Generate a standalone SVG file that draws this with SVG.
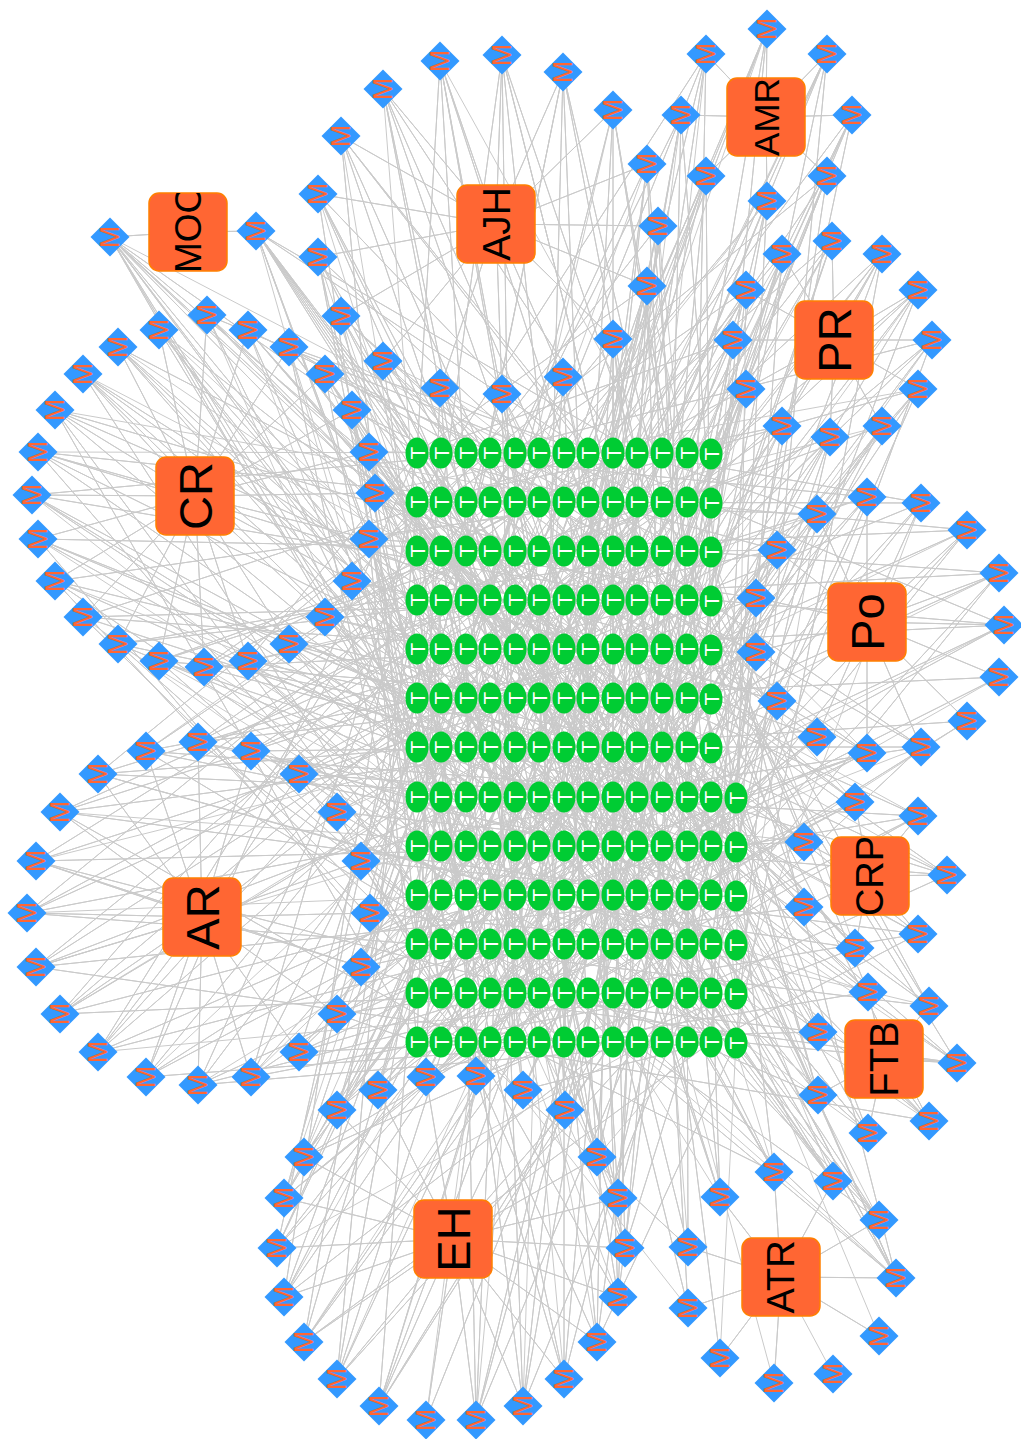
<svg xmlns="http://www.w3.org/2000/svg" xmlns:xlink="http://www.w3.org/1999/xlink" width="1021" height="1439" viewBox="0 0 1021 1439">
<style>
.e path{fill:none;stroke:#cacaca;stroke-width:1;stroke-linejoin:round}
.m{fill:#FF6633;font-family:"Liberation Sans",Arial,sans-serif;font-size:27px;text-anchor:middle;dominant-baseline:central}
.b{fill:#ffffff;font-family:"Liberation Sans",Arial,sans-serif;font-size:21px;text-anchor:middle;dominant-baseline:central}
.h{fill:#FF6633;stroke:#FF8000;stroke-width:1.5}
.l{fill:#000000;font-family:"Liberation Sans",Arial,sans-serif;text-anchor:middle;dominant-baseline:central}
</style>
<defs>
<path id="d" fill="#3399FF" d="M0 -19.5L19.5 0L0 19.5L-19.5 0Z"/>
<ellipse id="e" fill="#00CC33" rx="15.5" ry="11.5"/>
<clipPath id="cm"><rect x="-39" y="-39" width="78" height="78"/></clipPath>
</defs>
<rect width="1021" height="1439" fill="#ffffff"/>
<g id="connectors" class="e">
<path d="M440 61L496 224 440 61 417 453 440 61 539 600 440 61 662 747 440 61 490 895 440 61 613 1042 440 61 711 551M502 55L496 224 502 55 441 502 502 55 564 649 502 55 687 797 502 55 515 944 502 55 637 453 502 55 736 993M563 72L496 224 563 72 466 551 563 72 588 698 563 72 711 846 563 72 539 993 563 72 662 502 563 72 417 797M383 89L496 224 383 89 490 600 383 89 613 747 383 89 736 895 383 89 564 1042 383 89 687 551 383 89 441 846M341 136L496 224 341 136 515 649 341 136 637 797 341 136 417 944 341 136 588 453 341 136 711 600 341 136 466 895M318 194L496 224 318 194 539 698 318 194 662 846 318 194 441 993 318 194 613 502 318 194 736 1042 318 194 490 747M318 257L496 224 318 257 564 747 318 257 687 895 318 257 466 1042 318 257 637 551 318 257 417 698 318 257 515 846M341 316L496 224 341 316 588 797 341 316 711 944 341 316 490 453 341 316 662 600 341 316 441 747 341 316 539 895M383 361L496 224 383 361 613 846 383 361 736 797 383 361 515 502 383 361 687 649 383 361 466 944 383 361 564 453M440 388L496 224 440 388 637 895 440 388 417 1042 440 388 539 551 440 388 711 698 440 388 490 993 440 388 588 502M502 394L496 224 502 394 662 944 502 394 441 600 502 394 564 797 502 394 736 846 502 394 515 1042 502 394 613 649M563 377L496 224 563 377 687 993 563 377 466 649 563 377 588 846 563 377 417 502 563 377 539 747 563 377 637 698M613 339L496 224 613 339 711 1042 613 339 490 698 613 339 613 895 613 339 441 551 613 339 564 993 613 339 662 797M647 286L496 224 647 286 417 453 647 286 539 600 647 286 662 747 647 286 490 895 647 286 613 1042 647 286 711 551M658 226L496 224 658 226 441 502 658 226 564 649 658 226 687 797 658 226 515 944 658 226 637 453 658 226 736 993M647 164L496 224 647 164 466 551 647 164 588 698 647 164 711 846 647 164 539 993 647 164 662 502 647 164 417 797M613 110L496 224 613 110 490 600 613 110 613 747 613 110 736 895 613 110 564 1042 613 110 687 551 613 110 441 846"/>
<path d="M767 29L766 117 767 29 515 649 767 29 637 797 767 29 417 944 767 29 588 453 767 29 711 600 767 29 466 895M827 54L766 117 827 54 539 698 827 54 662 846 827 54 441 993 827 54 613 502 827 54 736 1042 827 54 490 747M852 115L766 117 852 115 564 747 852 115 687 895 852 115 466 1042 852 115 637 551 852 115 417 698 852 115 515 846M827 176L766 117 827 176 588 797 827 176 711 944 827 176 490 453 827 176 662 600 827 176 441 747 827 176 539 895M767 201L766 117 767 201 613 846 767 201 736 797 767 201 515 502 767 201 687 649 767 201 466 944 767 201 564 453M706 176L766 117 706 176 637 895 706 176 417 1042 706 176 539 551 706 176 711 698 706 176 490 993 706 176 588 502M681 115L766 117 681 115 662 944 681 115 441 600 681 115 564 797 681 115 736 846 681 115 515 1042 681 115 613 649M706 54L766 117 706 54 687 993 706 54 466 649 706 54 588 846 706 54 417 502 706 54 539 747 706 54 637 698"/>
<path d="M110 237L188 232 110 237 711 1042 110 237 490 698 110 237 613 895 110 237 441 551 110 237 564 993 110 237 662 797 110 237 417 453 110 237 539 600 110 237 662 747 110 237 490 895 110 237 613 1042 110 237 711 551M256 231L188 232 256 231 441 502 256 231 564 649 256 231 687 797 256 231 515 944 256 231 637 453 256 231 736 993 256 231 466 551 256 231 588 698 256 231 711 846 256 231 539 993 256 231 662 502 256 231 417 797"/>
<path d="M782 254L834 340 782 254 490 600 782 254 613 747 782 254 736 895 782 254 564 1042 782 254 687 551 782 254 441 846M832 241L834 340 832 241 515 649 832 241 637 797 832 241 417 944 832 241 588 453 832 241 711 600 832 241 466 895M882 254L834 340 882 254 539 698 882 254 662 846 882 254 441 993 882 254 613 502 882 254 736 1042 882 254 490 747M918 290L834 340 918 290 564 747 918 290 687 895 918 290 466 1042 918 290 637 551 918 290 417 698 918 290 515 846M932 340L834 340 932 340 588 797 932 340 711 944 932 340 490 453 932 340 662 600 932 340 441 747 932 340 539 895M918 389L834 340 918 389 613 846 918 389 736 797 918 389 515 502 918 389 687 649 918 389 466 944 918 389 564 453M882 426L834 340 882 426 637 895 882 426 417 1042 882 426 539 551 882 426 711 698 882 426 490 993 882 426 588 502M830 437L834 340 830 437 662 944 830 437 441 600 830 437 564 797 830 437 736 846 830 437 515 1042 830 437 613 649M782 426L834 340 782 426 687 993 782 426 466 649 782 426 588 846 782 426 417 502 782 426 539 747 782 426 637 698M746 389L834 340 746 389 711 1042 746 389 490 698 746 389 613 895 746 389 441 551 746 389 564 993 746 389 662 797M733 340L834 340 733 340 417 453 733 340 539 600 733 340 662 747 733 340 490 895 733 340 613 1042 733 340 711 551M746 290L834 340 746 290 441 502 746 290 564 649 746 290 687 797 746 290 515 944 746 290 637 453 746 290 736 993"/>
<path d="M207 315L195 496 207 315 466 551 207 315 588 698 207 315 711 846 207 315 539 993 207 315 662 502 207 315 417 797M248 330L195 496 248 330 490 600 248 330 613 747 248 330 736 895 248 330 564 1042 248 330 687 551 248 330 441 846M289 347L195 496 289 347 515 649 289 347 637 797 289 347 417 944 289 347 588 453 289 347 711 600 289 347 466 895M325 374L195 496 325 374 539 698 325 374 662 846 325 374 441 993 325 374 613 502 325 374 736 1042 325 374 490 747M352 410L195 496 352 410 564 747 352 410 687 895 352 410 466 1042 352 410 637 551 352 410 417 698 352 410 515 846M369 452L195 496 369 452 588 797 369 452 711 944 369 452 490 453 369 452 662 600 369 452 441 747 369 452 539 895M375 493L195 496 375 493 613 846 375 493 736 797 375 493 515 502 375 493 687 649 375 493 466 944 375 493 564 453M369 539L195 496 369 539 637 895 369 539 417 1042 369 539 539 551 369 539 711 698 369 539 490 993 369 539 588 502M352 581L195 496 352 581 662 944 352 581 441 600 352 581 564 797 352 581 736 846 352 581 515 1042 352 581 613 649M325 617L195 496 325 617 687 993 325 617 466 649 325 617 588 846 325 617 417 502 325 617 539 747 325 617 637 698M289 644L195 496 289 644 711 1042 289 644 490 698 289 644 613 895 289 644 441 551 289 644 564 993 289 644 662 797M248 661L195 496 248 661 417 453 248 661 539 600 248 661 662 747 248 661 490 895 248 661 613 1042 248 661 711 551M204 667L195 496 204 667 441 502 204 667 564 649 204 667 687 797 204 667 515 944 204 667 637 453 204 667 736 993M159 661L195 496 159 661 466 551 159 661 588 698 159 661 711 846 159 661 539 993 159 661 662 502 159 661 417 797M118 644L195 496 118 644 490 600 118 644 613 747 118 644 736 895 118 644 564 1042 118 644 687 551 118 644 441 846M83 617L195 496 83 617 515 649 83 617 637 797 83 617 417 944 83 617 588 453 83 617 711 600 83 617 466 895M55 581L195 496 55 581 539 698 55 581 662 846 55 581 441 993 55 581 613 502 55 581 736 1042 55 581 490 747M38 539L195 496 38 539 564 747 38 539 687 895 38 539 466 1042 38 539 637 551 38 539 417 698 38 539 515 846M32 495L195 496 32 495 588 797 32 495 711 944 32 495 490 453 32 495 662 600 32 495 441 747 32 495 539 895M38 452L195 496 38 452 613 846 38 452 736 797 38 452 515 502 38 452 687 649 38 452 466 944 38 452 564 453M55 410L195 496 55 410 637 895 55 410 417 1042 55 410 539 551 55 410 711 698 55 410 490 993 55 410 588 502M83 374L195 496 83 374 662 944 83 374 441 600 83 374 564 797 83 374 736 846 83 374 515 1042 83 374 613 649M118 347L195 496 118 347 687 993 118 347 466 649 118 347 588 846 118 347 417 502 118 347 539 747 118 347 637 698M159 330L195 496 159 330 711 1042 159 330 490 698 159 330 613 895 159 330 441 551 159 330 564 993 159 330 662 797"/>
<path d="M867 497L867 622 867 497 417 453 867 497 539 600 867 497 662 747 867 497 490 895 867 497 613 1042 867 497 711 551M921 503L867 622 921 503 441 502 921 503 564 649 921 503 687 797 921 503 515 944 921 503 637 453 921 503 736 993M967 530L867 622 967 530 466 551 967 530 588 698 967 530 711 846 967 530 539 993 967 530 662 502 967 530 417 797M999 573L867 622 999 573 490 600 999 573 613 747 999 573 736 895 999 573 564 1042 999 573 687 551 999 573 441 846M1004 625L867 622 1004 625 515 649 1004 625 637 797 1004 625 417 944 1004 625 588 453 1004 625 711 600 1004 625 466 895M999 677L867 622 999 677 539 698 999 677 662 846 999 677 441 993M967 721L867 622 967 721 564 747 967 721 687 895 967 721 466 1042M921 747L867 622 921 747 588 797 921 747 711 944 921 747 490 453 921 747 662 600 921 747 441 747 921 747 539 895M867 753L867 622 867 753 613 846 867 753 736 797 867 753 515 502 867 753 687 649 867 753 466 944 867 753 564 453M817 737L867 622 817 737 637 895 817 737 417 1042 817 737 539 551 817 737 711 698 817 737 490 993 817 737 588 502M777 701L867 622 777 701 662 944 777 701 441 600 777 701 564 797 777 701 736 846 777 701 515 1042 777 701 613 649M756 652L867 622 756 652 687 993 756 652 466 649 756 652 588 846 756 652 417 502 756 652 539 747 756 652 637 698M756 598L867 622 756 598 711 1042 756 598 490 698 756 598 613 895 756 598 441 551 756 598 564 993 756 598 662 797M777 550L867 622 777 550 417 453 777 550 539 600 777 550 662 747 777 550 490 895 777 550 613 1042 777 550 711 551M817 514L867 622 817 514 441 502 817 514 564 649 817 514 687 797 817 514 515 944 817 514 637 453 817 514 736 993"/>
<path d="M198 742L202 917 198 742 466 551 198 742 588 698 198 742 711 846 198 742 539 993 198 742 662 502 198 742 417 797M251 751L202 917 251 751 490 600 251 751 613 747 251 751 736 895 251 751 564 1042 251 751 687 551 251 751 441 846M299 774L202 917 299 774 515 649 299 774 637 797 299 774 417 944 299 774 588 453 299 774 711 600 299 774 466 895M337 812L202 917 337 812 539 698 337 812 662 846 337 812 441 993 337 812 613 502 337 812 736 1042 337 812 490 747M361 861L202 917 361 861 564 747 361 861 687 895 361 861 466 1042 361 861 637 551 361 861 417 698 361 861 515 846M370 913L202 917 370 913 588 797 370 913 711 944 370 913 490 453 370 913 662 600 370 913 441 747 370 913 539 895M361 967L202 917 361 967 613 846 361 967 736 797 361 967 515 502 361 967 687 649 361 967 466 944 361 967 564 453M337 1014L202 917 337 1014 637 895 337 1014 417 1042 337 1014 539 551 337 1014 711 698 337 1014 490 993 337 1014 588 502M299 1052L202 917 299 1052 662 944 299 1052 441 600 299 1052 564 797 299 1052 736 846 299 1052 515 1042 299 1052 613 649M251 1077L202 917 251 1077 687 993 251 1077 466 649 251 1077 588 846 251 1077 417 502 251 1077 539 747 251 1077 637 698M198 1085L202 917 198 1085 711 1042 198 1085 490 698 198 1085 613 895 198 1085 441 551 198 1085 564 993 198 1085 662 797M146 1077L202 917 146 1077 417 453 146 1077 539 600 146 1077 662 747 146 1077 490 895 146 1077 613 1042 146 1077 711 551M98 1052L202 917 98 1052 441 502 98 1052 564 649 98 1052 687 797 98 1052 515 944 98 1052 637 453 98 1052 736 993M60 1014L202 917 60 1014 466 551 60 1014 588 698 60 1014 711 846 60 1014 539 993 60 1014 662 502 60 1014 417 797M36 967L202 917 36 967 490 600 36 967 613 747 36 967 736 895 36 967 564 1042 36 967 687 551 36 967 441 846M27 913L202 917 27 913 515 649 27 913 637 797 27 913 417 944 27 913 588 453 27 913 711 600 27 913 466 895M36 861L202 917 36 861 539 698 36 861 662 846 36 861 441 993 36 861 613 502 36 861 736 1042 36 861 490 747M60 812L202 917 60 812 564 747 60 812 687 895 60 812 466 1042 60 812 637 551 60 812 417 698 60 812 515 846M98 774L202 917 98 774 588 797 98 774 711 944 98 774 490 453 98 774 662 600 98 774 441 747 98 774 539 895M146 751L202 917 146 751 613 846 146 751 736 797 146 751 515 502 146 751 687 649 146 751 466 944 146 751 564 453"/>
<path d="M855 802L869 876 855 802 637 895 855 802 417 1042 855 802 539 551 855 802 711 698 855 802 490 993 855 802 588 502M918 816L869 876 918 816 662 944 918 816 441 600 918 816 564 797 918 816 736 846 918 816 515 1042 918 816 613 649M947 875L869 876 947 875 687 993 947 875 466 649 947 875 588 846 947 875 417 502 947 875 539 747 947 875 637 698M918 934L869 876 918 934 711 1042 918 934 490 698 918 934 613 895 918 934 441 551 918 934 564 993 918 934 662 797M855 948L869 876 855 948 417 453 855 948 539 600 855 948 662 747 855 948 490 895 855 948 613 1042 855 948 711 551M804 907L869 876 804 907 441 502 804 907 564 649 804 907 687 797 804 907 515 944 804 907 637 453 804 907 736 993M804 842L869 876 804 842 466 551 804 842 588 698 804 842 711 846 804 842 539 993 804 842 662 502 804 842 417 797"/>
<path d="M868 992L884 1059 868 992 490 600 868 992 613 747 868 992 736 895 868 992 564 1042 868 992 687 551 868 992 441 846M929 1006L884 1059 929 1006 515 649 929 1006 637 797 929 1006 417 944 929 1006 588 453 929 1006 711 600 929 1006 466 895M957 1063L884 1059 957 1063 539 698 957 1063 662 846 957 1063 441 993 957 1063 613 502 957 1063 736 1042 957 1063 490 747M929 1121L884 1059 929 1121 564 747 929 1121 687 895 929 1121 466 1042 929 1121 637 551 929 1121 417 698 929 1121 515 846M868 1133L884 1059 868 1133 588 797 868 1133 711 944 868 1133 490 453 868 1133 662 600 868 1133 441 747 868 1133 539 895M818 1095L884 1059 818 1095 613 846 818 1095 736 797 818 1095 515 502 818 1095 687 649 818 1095 466 944 818 1095 564 453M818 1032L884 1059 818 1032 637 895 818 1032 417 1042 818 1032 539 551 818 1032 711 698 818 1032 490 993 818 1032 588 502"/>
<path d="M774 1172L781 1277 774 1172 662 944 774 1172 441 600 774 1172 564 797 774 1172 736 846 774 1172 515 1042 774 1172 613 649M833 1181L781 1277 833 1181 687 993 833 1181 466 649 833 1181 588 846 833 1181 417 502 833 1181 539 747 833 1181 637 698M879 1220L781 1277 879 1220 711 1042 879 1220 490 698 879 1220 613 895 879 1220 441 551 879 1220 564 993 879 1220 662 797M896 1278L781 1277 896 1278 417 453 896 1278 539 600 896 1278 662 747 896 1278 490 895 896 1278 613 1042 896 1278 711 551 896 1278 564 649 896 1278 687 797 896 1278 515 944M879 1336L781 1277 879 1336 736 993M833 1374L781 1277M774 1383L781 1277 774 1383 588 698M720 1358L781 1277 720 1358 613 502 720 1358 736 1042M688 1308L781 1277 688 1308 539 698 688 1308 662 846 688 1308 441 993M688 1247L781 1277 688 1247 564 747 688 1247 687 895 688 1247 466 1042 688 1247 637 551M720 1197L781 1277 720 1197 588 797 720 1197 711 944 720 1197 490 453 720 1197 662 600 720 1197 441 747"/>
<path d="M337 1110L453 1239 337 1110 613 846 337 1110 736 797 337 1110 515 502 337 1110 687 649 337 1110 466 944 337 1110 564 453M378 1090L453 1239 378 1090 637 895 378 1090 417 1042 378 1090 539 551 378 1090 711 698 378 1090 490 993 378 1090 588 502M426 1077L453 1239 426 1077 662 944 426 1077 441 600 426 1077 564 797 426 1077 736 846 426 1077 515 1042 426 1077 613 649M476 1076L453 1239 476 1076 687 993 476 1076 466 649 476 1076 588 846 476 1076 417 502 476 1076 539 747 476 1076 637 698M523 1090L453 1239 523 1090 711 1042 523 1090 490 698 523 1090 613 895 523 1090 441 551 523 1090 564 993 523 1090 662 797M565 1110L453 1239 565 1110 417 453 565 1110 539 600 565 1110 662 747 565 1110 490 895 565 1110 613 1042 565 1110 711 551M597 1157L453 1239 597 1157 441 502 597 1157 564 649 597 1157 687 797 597 1157 515 944 597 1157 637 453 597 1157 736 993M618 1198L453 1239 618 1198 466 551 618 1198 588 698 618 1198 711 846 618 1198 539 993 618 1198 662 502 618 1198 417 797M625 1248L453 1239 625 1248 490 600 625 1248 613 747 625 1248 736 895 625 1248 564 1042 625 1248 687 551 625 1248 441 846M618 1297L453 1239 618 1297 515 649 618 1297 637 797 618 1297 417 944 618 1297 588 453 618 1297 711 600 618 1297 466 895M597 1342L453 1239 597 1342 539 698 597 1342 662 846 597 1342 441 993 597 1342 613 502 597 1342 736 1042 597 1342 490 747M564 1379L453 1239 564 1379 564 747 564 1379 687 895 564 1379 466 1042 564 1379 637 551 564 1379 417 698 564 1379 515 846M523 1406L453 1239 523 1406 588 797 523 1406 711 944 523 1406 490 453 523 1406 662 600 523 1406 441 747 523 1406 539 895M476 1420L453 1239 476 1420 613 846 476 1420 736 797 476 1420 515 502 476 1420 687 649 476 1420 466 944 476 1420 564 453M426 1420L453 1239 426 1420 637 895 426 1420 539 551M379 1406L453 1239 379 1406 662 944 379 1406 441 600 379 1406 564 797 379 1406 736 846 379 1406 515 1042 379 1406 613 649M337 1379L453 1239 337 1379 687 993 337 1379 466 649 337 1379 588 846 337 1379 417 502 337 1379 539 747 337 1379 637 698M304 1342L453 1239 304 1342 711 1042 304 1342 490 698 304 1342 613 895 304 1342 441 551 304 1342 564 993 304 1342 662 797M284 1297L453 1239 284 1297 417 453 284 1297 539 600 284 1297 662 747 284 1297 490 895 284 1297 613 1042 284 1297 711 551M277 1248L453 1239 277 1248 441 502 277 1248 564 649 277 1248 687 797 277 1248 515 944 277 1248 637 453 277 1248 736 993M284 1198L453 1239 284 1198 466 551 284 1198 588 698 284 1198 711 846 284 1198 539 993 284 1198 662 502 284 1198 417 797M304 1157L453 1239 304 1157 490 600 304 1157 613 747 304 1157 736 895 304 1157 564 1042 304 1157 687 551 304 1157 441 846"/>
</g>
<g id="t-nodes">
<g id="t1" transform="translate(417 453)rotate(-90)"><use href="#e"/><text class="b">T</text></g>
<g id="t2" transform="translate(441 453)rotate(-90)"><use href="#e"/><text class="b">T</text></g>
<g id="t3" transform="translate(466 453)rotate(-90)"><use href="#e"/><text class="b">T</text></g>
<g id="t4" transform="translate(490 453)rotate(-90)"><use href="#e"/><text class="b">T</text></g>
<g id="t5" transform="translate(515 453)rotate(-90)"><use href="#e"/><text class="b">T</text></g>
<g id="t6" transform="translate(539 453)rotate(-90)"><use href="#e"/><text class="b">T</text></g>
<g id="t7" transform="translate(564 453)rotate(-90)"><use href="#e"/><text class="b">T</text></g>
<g id="t8" transform="translate(588 453)rotate(-90)"><use href="#e"/><text class="b">T</text></g>
<g id="t9" transform="translate(613 453)rotate(-90)"><use href="#e"/><text class="b">T</text></g>
<g id="t10" transform="translate(637 453)rotate(-90)"><use href="#e"/><text class="b">T</text></g>
<g id="t11" transform="translate(662 453)rotate(-90)"><use href="#e"/><text class="b">T</text></g>
<g id="t12" transform="translate(687 453)rotate(-90)"><use href="#e"/><text class="b">T</text></g>
<g id="t13" transform="translate(711 454)rotate(-90)"><use href="#e"/><text class="b">T</text></g>
<g id="t14" transform="translate(417 502)rotate(-90)"><use href="#e"/><text class="b">T</text></g>
<g id="t15" transform="translate(441 502)rotate(-90)"><use href="#e"/><text class="b">T</text></g>
<g id="t16" transform="translate(466 502)rotate(-90)"><use href="#e"/><text class="b">T</text></g>
<g id="t17" transform="translate(490 502)rotate(-90)"><use href="#e"/><text class="b">T</text></g>
<g id="t18" transform="translate(515 502)rotate(-90)"><use href="#e"/><text class="b">T</text></g>
<g id="t19" transform="translate(539 502)rotate(-90)"><use href="#e"/><text class="b">T</text></g>
<g id="t20" transform="translate(564 502)rotate(-90)"><use href="#e"/><text class="b">T</text></g>
<g id="t21" transform="translate(588 502)rotate(-90)"><use href="#e"/><text class="b">T</text></g>
<g id="t22" transform="translate(613 502)rotate(-90)"><use href="#e"/><text class="b">T</text></g>
<g id="t23" transform="translate(637 502)rotate(-90)"><use href="#e"/><text class="b">T</text></g>
<g id="t24" transform="translate(662 502)rotate(-90)"><use href="#e"/><text class="b">T</text></g>
<g id="t25" transform="translate(687 502)rotate(-90)"><use href="#e"/><text class="b">T</text></g>
<g id="t26" transform="translate(711 503)rotate(-90)"><use href="#e"/><text class="b">T</text></g>
<g id="t27" transform="translate(417 551)rotate(-90)"><use href="#e"/><text class="b">T</text></g>
<g id="t28" transform="translate(441 551)rotate(-90)"><use href="#e"/><text class="b">T</text></g>
<g id="t29" transform="translate(466 551)rotate(-90)"><use href="#e"/><text class="b">T</text></g>
<g id="t30" transform="translate(490 551)rotate(-90)"><use href="#e"/><text class="b">T</text></g>
<g id="t31" transform="translate(515 551)rotate(-90)"><use href="#e"/><text class="b">T</text></g>
<g id="t32" transform="translate(539 551)rotate(-90)"><use href="#e"/><text class="b">T</text></g>
<g id="t33" transform="translate(564 551)rotate(-90)"><use href="#e"/><text class="b">T</text></g>
<g id="t34" transform="translate(588 551)rotate(-90)"><use href="#e"/><text class="b">T</text></g>
<g id="t35" transform="translate(613 551)rotate(-90)"><use href="#e"/><text class="b">T</text></g>
<g id="t36" transform="translate(637 551)rotate(-90)"><use href="#e"/><text class="b">T</text></g>
<g id="t37" transform="translate(662 551)rotate(-90)"><use href="#e"/><text class="b">T</text></g>
<g id="t38" transform="translate(687 551)rotate(-90)"><use href="#e"/><text class="b">T</text></g>
<g id="t39" transform="translate(711 552)rotate(-90)"><use href="#e"/><text class="b">T</text></g>
<g id="t40" transform="translate(417 600)rotate(-90)"><use href="#e"/><text class="b">T</text></g>
<g id="t41" transform="translate(441 600)rotate(-90)"><use href="#e"/><text class="b">T</text></g>
<g id="t42" transform="translate(466 600)rotate(-90)"><use href="#e"/><text class="b">T</text></g>
<g id="t43" transform="translate(490 600)rotate(-90)"><use href="#e"/><text class="b">T</text></g>
<g id="t44" transform="translate(515 600)rotate(-90)"><use href="#e"/><text class="b">T</text></g>
<g id="t45" transform="translate(539 600)rotate(-90)"><use href="#e"/><text class="b">T</text></g>
<g id="t46" transform="translate(564 600)rotate(-90)"><use href="#e"/><text class="b">T</text></g>
<g id="t47" transform="translate(588 600)rotate(-90)"><use href="#e"/><text class="b">T</text></g>
<g id="t48" transform="translate(613 600)rotate(-90)"><use href="#e"/><text class="b">T</text></g>
<g id="t49" transform="translate(637 600)rotate(-90)"><use href="#e"/><text class="b">T</text></g>
<g id="t50" transform="translate(662 600)rotate(-90)"><use href="#e"/><text class="b">T</text></g>
<g id="t51" transform="translate(687 600)rotate(-90)"><use href="#e"/><text class="b">T</text></g>
<g id="t52" transform="translate(711 601)rotate(-90)"><use href="#e"/><text class="b">T</text></g>
<g id="t53" transform="translate(417 649)rotate(-90)"><use href="#e"/><text class="b">T</text></g>
<g id="t54" transform="translate(441 649)rotate(-90)"><use href="#e"/><text class="b">T</text></g>
<g id="t55" transform="translate(466 649)rotate(-90)"><use href="#e"/><text class="b">T</text></g>
<g id="t56" transform="translate(490 649)rotate(-90)"><use href="#e"/><text class="b">T</text></g>
<g id="t57" transform="translate(515 649)rotate(-90)"><use href="#e"/><text class="b">T</text></g>
<g id="t58" transform="translate(539 649)rotate(-90)"><use href="#e"/><text class="b">T</text></g>
<g id="t59" transform="translate(564 649)rotate(-90)"><use href="#e"/><text class="b">T</text></g>
<g id="t60" transform="translate(588 649)rotate(-90)"><use href="#e"/><text class="b">T</text></g>
<g id="t61" transform="translate(613 649)rotate(-90)"><use href="#e"/><text class="b">T</text></g>
<g id="t62" transform="translate(637 649)rotate(-90)"><use href="#e"/><text class="b">T</text></g>
<g id="t63" transform="translate(662 649)rotate(-90)"><use href="#e"/><text class="b">T</text></g>
<g id="t64" transform="translate(687 649)rotate(-90)"><use href="#e"/><text class="b">T</text></g>
<g id="t65" transform="translate(711 650)rotate(-90)"><use href="#e"/><text class="b">T</text></g>
<g id="t66" transform="translate(417 698)rotate(-90)"><use href="#e"/><text class="b">T</text></g>
<g id="t67" transform="translate(441 698)rotate(-90)"><use href="#e"/><text class="b">T</text></g>
<g id="t68" transform="translate(466 698)rotate(-90)"><use href="#e"/><text class="b">T</text></g>
<g id="t69" transform="translate(490 698)rotate(-90)"><use href="#e"/><text class="b">T</text></g>
<g id="t70" transform="translate(515 698)rotate(-90)"><use href="#e"/><text class="b">T</text></g>
<g id="t71" transform="translate(539 698)rotate(-90)"><use href="#e"/><text class="b">T</text></g>
<g id="t72" transform="translate(564 698)rotate(-90)"><use href="#e"/><text class="b">T</text></g>
<g id="t73" transform="translate(588 698)rotate(-90)"><use href="#e"/><text class="b">T</text></g>
<g id="t74" transform="translate(613 698)rotate(-90)"><use href="#e"/><text class="b">T</text></g>
<g id="t75" transform="translate(637 698)rotate(-90)"><use href="#e"/><text class="b">T</text></g>
<g id="t76" transform="translate(662 698)rotate(-90)"><use href="#e"/><text class="b">T</text></g>
<g id="t77" transform="translate(687 698)rotate(-90)"><use href="#e"/><text class="b">T</text></g>
<g id="t78" transform="translate(711 699)rotate(-90)"><use href="#e"/><text class="b">T</text></g>
<g id="t79" transform="translate(417 747)rotate(-90)"><use href="#e"/><text class="b">T</text></g>
<g id="t80" transform="translate(441 747)rotate(-90)"><use href="#e"/><text class="b">T</text></g>
<g id="t81" transform="translate(466 747)rotate(-90)"><use href="#e"/><text class="b">T</text></g>
<g id="t82" transform="translate(490 747)rotate(-90)"><use href="#e"/><text class="b">T</text></g>
<g id="t83" transform="translate(515 747)rotate(-90)"><use href="#e"/><text class="b">T</text></g>
<g id="t84" transform="translate(539 747)rotate(-90)"><use href="#e"/><text class="b">T</text></g>
<g id="t85" transform="translate(564 747)rotate(-90)"><use href="#e"/><text class="b">T</text></g>
<g id="t86" transform="translate(588 747)rotate(-90)"><use href="#e"/><text class="b">T</text></g>
<g id="t87" transform="translate(613 747)rotate(-90)"><use href="#e"/><text class="b">T</text></g>
<g id="t88" transform="translate(637 747)rotate(-90)"><use href="#e"/><text class="b">T</text></g>
<g id="t89" transform="translate(662 747)rotate(-90)"><use href="#e"/><text class="b">T</text></g>
<g id="t90" transform="translate(687 747)rotate(-90)"><use href="#e"/><text class="b">T</text></g>
<g id="t91" transform="translate(711 748)rotate(-90)"><use href="#e"/><text class="b">T</text></g>
<g id="t92" transform="translate(417 797)rotate(-90)"><use href="#e"/><text class="b">T</text></g>
<g id="t93" transform="translate(441 797)rotate(-90)"><use href="#e"/><text class="b">T</text></g>
<g id="t94" transform="translate(466 797)rotate(-90)"><use href="#e"/><text class="b">T</text></g>
<g id="t95" transform="translate(490 797)rotate(-90)"><use href="#e"/><text class="b">T</text></g>
<g id="t96" transform="translate(515 797)rotate(-90)"><use href="#e"/><text class="b">T</text></g>
<g id="t97" transform="translate(539 797)rotate(-90)"><use href="#e"/><text class="b">T</text></g>
<g id="t98" transform="translate(564 797)rotate(-90)"><use href="#e"/><text class="b">T</text></g>
<g id="t99" transform="translate(588 797)rotate(-90)"><use href="#e"/><text class="b">T</text></g>
<g id="t100" transform="translate(613 797)rotate(-90)"><use href="#e"/><text class="b">T</text></g>
<g id="t101" transform="translate(637 797)rotate(-90)"><use href="#e"/><text class="b">T</text></g>
<g id="t102" transform="translate(662 797)rotate(-90)"><use href="#e"/><text class="b">T</text></g>
<g id="t103" transform="translate(687 797)rotate(-90)"><use href="#e"/><text class="b">T</text></g>
<g id="t104" transform="translate(711 797)rotate(-90)"><use href="#e"/><text class="b">T</text></g>
<g id="t105" transform="translate(736 798)rotate(-90)"><use href="#e"/><text class="b">T</text></g>
<g id="t106" transform="translate(417 846)rotate(-90)"><use href="#e"/><text class="b">T</text></g>
<g id="t107" transform="translate(441 846)rotate(-90)"><use href="#e"/><text class="b">T</text></g>
<g id="t108" transform="translate(466 846)rotate(-90)"><use href="#e"/><text class="b">T</text></g>
<g id="t109" transform="translate(490 846)rotate(-90)"><use href="#e"/><text class="b">T</text></g>
<g id="t110" transform="translate(515 846)rotate(-90)"><use href="#e"/><text class="b">T</text></g>
<g id="t111" transform="translate(539 846)rotate(-90)"><use href="#e"/><text class="b">T</text></g>
<g id="t112" transform="translate(564 846)rotate(-90)"><use href="#e"/><text class="b">T</text></g>
<g id="t113" transform="translate(588 846)rotate(-90)"><use href="#e"/><text class="b">T</text></g>
<g id="t114" transform="translate(613 846)rotate(-90)"><use href="#e"/><text class="b">T</text></g>
<g id="t115" transform="translate(637 846)rotate(-90)"><use href="#e"/><text class="b">T</text></g>
<g id="t116" transform="translate(662 846)rotate(-90)"><use href="#e"/><text class="b">T</text></g>
<g id="t117" transform="translate(687 846)rotate(-90)"><use href="#e"/><text class="b">T</text></g>
<g id="t118" transform="translate(711 846)rotate(-90)"><use href="#e"/><text class="b">T</text></g>
<g id="t119" transform="translate(736 847)rotate(-90)"><use href="#e"/><text class="b">T</text></g>
<g id="t120" transform="translate(417 895)rotate(-90)"><use href="#e"/><text class="b">T</text></g>
<g id="t121" transform="translate(441 895)rotate(-90)"><use href="#e"/><text class="b">T</text></g>
<g id="t122" transform="translate(466 895)rotate(-90)"><use href="#e"/><text class="b">T</text></g>
<g id="t123" transform="translate(490 895)rotate(-90)"><use href="#e"/><text class="b">T</text></g>
<g id="t124" transform="translate(515 895)rotate(-90)"><use href="#e"/><text class="b">T</text></g>
<g id="t125" transform="translate(539 895)rotate(-90)"><use href="#e"/><text class="b">T</text></g>
<g id="t126" transform="translate(564 895)rotate(-90)"><use href="#e"/><text class="b">T</text></g>
<g id="t127" transform="translate(588 895)rotate(-90)"><use href="#e"/><text class="b">T</text></g>
<g id="t128" transform="translate(613 895)rotate(-90)"><use href="#e"/><text class="b">T</text></g>
<g id="t129" transform="translate(637 895)rotate(-90)"><use href="#e"/><text class="b">T</text></g>
<g id="t130" transform="translate(662 895)rotate(-90)"><use href="#e"/><text class="b">T</text></g>
<g id="t131" transform="translate(687 895)rotate(-90)"><use href="#e"/><text class="b">T</text></g>
<g id="t132" transform="translate(711 895)rotate(-90)"><use href="#e"/><text class="b">T</text></g>
<g id="t133" transform="translate(736 896)rotate(-90)"><use href="#e"/><text class="b">T</text></g>
<g id="t134" transform="translate(417 944)rotate(-90)"><use href="#e"/><text class="b">T</text></g>
<g id="t135" transform="translate(441 944)rotate(-90)"><use href="#e"/><text class="b">T</text></g>
<g id="t136" transform="translate(466 944)rotate(-90)"><use href="#e"/><text class="b">T</text></g>
<g id="t137" transform="translate(490 944)rotate(-90)"><use href="#e"/><text class="b">T</text></g>
<g id="t138" transform="translate(515 944)rotate(-90)"><use href="#e"/><text class="b">T</text></g>
<g id="t139" transform="translate(539 944)rotate(-90)"><use href="#e"/><text class="b">T</text></g>
<g id="t140" transform="translate(564 944)rotate(-90)"><use href="#e"/><text class="b">T</text></g>
<g id="t141" transform="translate(588 944)rotate(-90)"><use href="#e"/><text class="b">T</text></g>
<g id="t142" transform="translate(613 944)rotate(-90)"><use href="#e"/><text class="b">T</text></g>
<g id="t143" transform="translate(637 944)rotate(-90)"><use href="#e"/><text class="b">T</text></g>
<g id="t144" transform="translate(662 944)rotate(-90)"><use href="#e"/><text class="b">T</text></g>
<g id="t145" transform="translate(687 944)rotate(-90)"><use href="#e"/><text class="b">T</text></g>
<g id="t146" transform="translate(711 944)rotate(-90)"><use href="#e"/><text class="b">T</text></g>
<g id="t147" transform="translate(736 945)rotate(-90)"><use href="#e"/><text class="b">T</text></g>
<g id="t148" transform="translate(417 993)rotate(-90)"><use href="#e"/><text class="b">T</text></g>
<g id="t149" transform="translate(441 993)rotate(-90)"><use href="#e"/><text class="b">T</text></g>
<g id="t150" transform="translate(466 993)rotate(-90)"><use href="#e"/><text class="b">T</text></g>
<g id="t151" transform="translate(490 993)rotate(-90)"><use href="#e"/><text class="b">T</text></g>
<g id="t152" transform="translate(515 993)rotate(-90)"><use href="#e"/><text class="b">T</text></g>
<g id="t153" transform="translate(539 993)rotate(-90)"><use href="#e"/><text class="b">T</text></g>
<g id="t154" transform="translate(564 993)rotate(-90)"><use href="#e"/><text class="b">T</text></g>
<g id="t155" transform="translate(588 993)rotate(-90)"><use href="#e"/><text class="b">T</text></g>
<g id="t156" transform="translate(613 993)rotate(-90)"><use href="#e"/><text class="b">T</text></g>
<g id="t157" transform="translate(637 993)rotate(-90)"><use href="#e"/><text class="b">T</text></g>
<g id="t158" transform="translate(662 993)rotate(-90)"><use href="#e"/><text class="b">T</text></g>
<g id="t159" transform="translate(687 993)rotate(-90)"><use href="#e"/><text class="b">T</text></g>
<g id="t160" transform="translate(711 993)rotate(-90)"><use href="#e"/><text class="b">T</text></g>
<g id="t161" transform="translate(736 994)rotate(-90)"><use href="#e"/><text class="b">T</text></g>
<g id="t162" transform="translate(417 1042)rotate(-90)"><use href="#e"/><text class="b">T</text></g>
<g id="t163" transform="translate(441 1042)rotate(-90)"><use href="#e"/><text class="b">T</text></g>
<g id="t164" transform="translate(466 1042)rotate(-90)"><use href="#e"/><text class="b">T</text></g>
<g id="t165" transform="translate(490 1042)rotate(-90)"><use href="#e"/><text class="b">T</text></g>
<g id="t166" transform="translate(515 1042)rotate(-90)"><use href="#e"/><text class="b">T</text></g>
<g id="t167" transform="translate(539 1042)rotate(-90)"><use href="#e"/><text class="b">T</text></g>
<g id="t168" transform="translate(564 1042)rotate(-90)"><use href="#e"/><text class="b">T</text></g>
<g id="t169" transform="translate(588 1042)rotate(-90)"><use href="#e"/><text class="b">T</text></g>
<g id="t170" transform="translate(613 1042)rotate(-90)"><use href="#e"/><text class="b">T</text></g>
<g id="t171" transform="translate(637 1042)rotate(-90)"><use href="#e"/><text class="b">T</text></g>
<g id="t172" transform="translate(662 1042)rotate(-90)"><use href="#e"/><text class="b">T</text></g>
<g id="t173" transform="translate(687 1042)rotate(-90)"><use href="#e"/><text class="b">T</text></g>
<g id="t174" transform="translate(711 1042)rotate(-90)"><use href="#e"/><text class="b">T</text></g>
<g id="t175" transform="translate(736 1043)rotate(-90)"><use href="#e"/><text class="b">T</text></g>
</g>
<g id="m-nodes">
<g id="a1" transform="translate(440 61)rotate(-90)"><use href="#d"/><text class="m">M</text></g>
<g id="a2" transform="translate(502 55)rotate(-90)"><use href="#d"/><text class="m">M</text></g>
<g id="a3" transform="translate(563 72)rotate(-90)"><use href="#d"/><text class="m">M</text></g>
<g id="a4" transform="translate(383 89)rotate(-90)"><use href="#d"/><text class="m">M</text></g>
<g id="a5" transform="translate(341 136)rotate(-90)"><use href="#d"/><text class="m">M</text></g>
<g id="a6" transform="translate(318 194)rotate(-90)"><use href="#d"/><text class="m">M</text></g>
<g id="a7" transform="translate(318 257)rotate(-90)"><use href="#d"/><text class="m">M</text></g>
<g id="a8" transform="translate(341 316)rotate(-90)"><use href="#d"/><text class="m">M</text></g>
<g id="a9" transform="translate(383 361)rotate(-90)"><use href="#d"/><text class="m">M</text></g>
<g id="a10" transform="translate(440 388)rotate(-90)"><use href="#d"/><text class="m">M</text></g>
<g id="a11" transform="translate(502 394)rotate(-90)"><use href="#d"/><text class="m">M</text></g>
<g id="a12" transform="translate(563 377)rotate(-90)"><use href="#d"/><text class="m">M</text></g>
<g id="a13" transform="translate(613 339)rotate(-90)"><use href="#d"/><text class="m">M</text></g>
<g id="a14" transform="translate(647 286)rotate(-90)"><use href="#d"/><text class="m">M</text></g>
<g id="a15" transform="translate(658 226)rotate(-90)"><use href="#d"/><text class="m">M</text></g>
<g id="a16" transform="translate(647 164)rotate(-90)"><use href="#d"/><text class="m">M</text></g>
<g id="a17" transform="translate(613 110)rotate(-90)"><use href="#d"/><text class="m">M</text></g>
<g id="b1" transform="translate(767 29)rotate(-90)"><use href="#d"/><text class="m">M</text></g>
<g id="b2" transform="translate(827 54)rotate(-90)"><use href="#d"/><text class="m">M</text></g>
<g id="b3" transform="translate(852 115)rotate(-90)"><use href="#d"/><text class="m">M</text></g>
<g id="b4" transform="translate(827 176)rotate(-90)"><use href="#d"/><text class="m">M</text></g>
<g id="b5" transform="translate(767 201)rotate(-90)"><use href="#d"/><text class="m">M</text></g>
<g id="b6" transform="translate(706 176)rotate(-90)"><use href="#d"/><text class="m">M</text></g>
<g id="b7" transform="translate(681 115)rotate(-90)"><use href="#d"/><text class="m">M</text></g>
<g id="b8" transform="translate(706 54)rotate(-90)"><use href="#d"/><text class="m">M</text></g>
<g id="c1" transform="translate(110 237)rotate(-90)"><use href="#d"/><text class="m">M</text></g>
<g id="c2" transform="translate(256 231)rotate(-90)"><use href="#d"/><text class="m">M</text></g>
<g id="d1" transform="translate(782 254)rotate(-90)"><use href="#d"/><text class="m">M</text></g>
<g id="d2" transform="translate(832 241)rotate(-90)"><use href="#d"/><text class="m">M</text></g>
<g id="d3" transform="translate(882 254)rotate(-90)"><use href="#d"/><text class="m">M</text></g>
<g id="d4" transform="translate(918 290)rotate(-90)"><use href="#d"/><text class="m">M</text></g>
<g id="d5" transform="translate(932 340)rotate(-90)"><use href="#d"/><text class="m">M</text></g>
<g id="d6" transform="translate(918 389)rotate(-90)"><use href="#d"/><text class="m">M</text></g>
<g id="d7" transform="translate(882 426)rotate(-90)"><use href="#d"/><text class="m">M</text></g>
<g id="d8" transform="translate(830 437)rotate(-90)"><use href="#d"/><text class="m">M</text></g>
<g id="d9" transform="translate(782 426)rotate(-90)"><use href="#d"/><text class="m">M</text></g>
<g id="d10" transform="translate(746 389)rotate(-90)"><use href="#d"/><text class="m">M</text></g>
<g id="d11" transform="translate(733 340)rotate(-90)"><use href="#d"/><text class="m">M</text></g>
<g id="d12" transform="translate(746 290)rotate(-90)"><use href="#d"/><text class="m">M</text></g>
<g id="e1" transform="translate(207 315)rotate(-90)"><use href="#d"/><text class="m">M</text></g>
<g id="e2" transform="translate(248 330)rotate(-90)"><use href="#d"/><text class="m">M</text></g>
<g id="e3" transform="translate(289 347)rotate(-90)"><use href="#d"/><text class="m">M</text></g>
<g id="e4" transform="translate(325 374)rotate(-90)"><use href="#d"/><text class="m">M</text></g>
<g id="e5" transform="translate(352 410)rotate(-90)"><use href="#d"/><text class="m">M</text></g>
<g id="e6" transform="translate(369 452)rotate(-90)"><use href="#d"/><text class="m">M</text></g>
<g id="e7" transform="translate(375 493)rotate(-90)"><use href="#d"/><text class="m">M</text></g>
<g id="e8" transform="translate(369 539)rotate(-90)"><use href="#d"/><text class="m">M</text></g>
<g id="e9" transform="translate(352 581)rotate(-90)"><use href="#d"/><text class="m">M</text></g>
<g id="e10" transform="translate(325 617)rotate(-90)"><use href="#d"/><text class="m">M</text></g>
<g id="e11" transform="translate(289 644)rotate(-90)"><use href="#d"/><text class="m">M</text></g>
<g id="e12" transform="translate(248 661)rotate(-90)"><use href="#d"/><text class="m">M</text></g>
<g id="e13" transform="translate(204 667)rotate(-90)"><use href="#d"/><text class="m">M</text></g>
<g id="e14" transform="translate(159 661)rotate(-90)"><use href="#d"/><text class="m">M</text></g>
<g id="e15" transform="translate(118 644)rotate(-90)"><use href="#d"/><text class="m">M</text></g>
<g id="e16" transform="translate(83 617)rotate(-90)"><use href="#d"/><text class="m">M</text></g>
<g id="e17" transform="translate(55 581)rotate(-90)"><use href="#d"/><text class="m">M</text></g>
<g id="e18" transform="translate(38 539)rotate(-90)"><use href="#d"/><text class="m">M</text></g>
<g id="e19" transform="translate(32 495)rotate(-90)"><use href="#d"/><text class="m">M</text></g>
<g id="e20" transform="translate(38 452)rotate(-90)"><use href="#d"/><text class="m">M</text></g>
<g id="e21" transform="translate(55 410)rotate(-90)"><use href="#d"/><text class="m">M</text></g>
<g id="e22" transform="translate(83 374)rotate(-90)"><use href="#d"/><text class="m">M</text></g>
<g id="e23" transform="translate(118 347)rotate(-90)"><use href="#d"/><text class="m">M</text></g>
<g id="e24" transform="translate(159 330)rotate(-90)"><use href="#d"/><text class="m">M</text></g>
<g id="f1" transform="translate(867 497)rotate(-90)"><use href="#d"/><text class="m">M</text></g>
<g id="f2" transform="translate(921 503)rotate(-90)"><use href="#d"/><text class="m">M</text></g>
<g id="f3" transform="translate(967 530)rotate(-90)"><use href="#d"/><text class="m">M</text></g>
<g id="f4" transform="translate(999 573)rotate(-90)"><use href="#d"/><text class="m">M</text></g>
<g id="f5" transform="translate(1004 625)rotate(-90)"><use href="#d"/><text class="m">M</text></g>
<g id="f6" transform="translate(999 677)rotate(-90)"><use href="#d"/><text class="m">M</text></g>
<g id="f7" transform="translate(967 721)rotate(-90)"><use href="#d"/><text class="m">M</text></g>
<g id="f8" transform="translate(921 747)rotate(-90)"><use href="#d"/><text class="m">M</text></g>
<g id="f9" transform="translate(867 753)rotate(-90)"><use href="#d"/><text class="m">M</text></g>
<g id="f10" transform="translate(817 737)rotate(-90)"><use href="#d"/><text class="m">M</text></g>
<g id="f11" transform="translate(777 701)rotate(-90)"><use href="#d"/><text class="m">M</text></g>
<g id="f12" transform="translate(756 652)rotate(-90)"><use href="#d"/><text class="m">M</text></g>
<g id="f13" transform="translate(756 598)rotate(-90)"><use href="#d"/><text class="m">M</text></g>
<g id="f14" transform="translate(777 550)rotate(-90)"><use href="#d"/><text class="m">M</text></g>
<g id="f15" transform="translate(817 514)rotate(-90)"><use href="#d"/><text class="m">M</text></g>
<g id="g1" transform="translate(198 742)rotate(-90)"><use href="#d"/><text class="m">M</text></g>
<g id="g2" transform="translate(251 751)rotate(-90)"><use href="#d"/><text class="m">M</text></g>
<g id="g3" transform="translate(299 774)rotate(-90)"><use href="#d"/><text class="m">M</text></g>
<g id="g4" transform="translate(337 812)rotate(-90)"><use href="#d"/><text class="m">M</text></g>
<g id="g5" transform="translate(361 861)rotate(-90)"><use href="#d"/><text class="m">M</text></g>
<g id="g6" transform="translate(370 913)rotate(-90)"><use href="#d"/><text class="m">M</text></g>
<g id="g7" transform="translate(361 967)rotate(-90)"><use href="#d"/><text class="m">M</text></g>
<g id="g8" transform="translate(337 1014)rotate(-90)"><use href="#d"/><text class="m">M</text></g>
<g id="g9" transform="translate(299 1052)rotate(-90)"><use href="#d"/><text class="m">M</text></g>
<g id="g10" transform="translate(251 1077)rotate(-90)"><use href="#d"/><text class="m">M</text></g>
<g id="g11" transform="translate(198 1085)rotate(-90)"><use href="#d"/><text class="m">M</text></g>
<g id="g12" transform="translate(146 1077)rotate(-90)"><use href="#d"/><text class="m">M</text></g>
<g id="g13" transform="translate(98 1052)rotate(-90)"><use href="#d"/><text class="m">M</text></g>
<g id="g14" transform="translate(60 1014)rotate(-90)"><use href="#d"/><text class="m">M</text></g>
<g id="g15" transform="translate(36 967)rotate(-90)"><use href="#d"/><text class="m">M</text></g>
<g id="g16" transform="translate(27 913)rotate(-90)"><use href="#d"/><text class="m">M</text></g>
<g id="g17" transform="translate(36 861)rotate(-90)"><use href="#d"/><text class="m">M</text></g>
<g id="g18" transform="translate(60 812)rotate(-90)"><use href="#d"/><text class="m">M</text></g>
<g id="g19" transform="translate(98 774)rotate(-90)"><use href="#d"/><text class="m">M</text></g>
<g id="g20" transform="translate(146 751)rotate(-90)"><use href="#d"/><text class="m">M</text></g>
<g id="h1" transform="translate(855 802)rotate(-90)"><use href="#d"/><text class="m">M</text></g>
<g id="h2" transform="translate(918 816)rotate(-90)"><use href="#d"/><text class="m">M</text></g>
<g id="h3" transform="translate(947 875)rotate(-90)"><use href="#d"/><text class="m">M</text></g>
<g id="h4" transform="translate(918 934)rotate(-90)"><use href="#d"/><text class="m">M</text></g>
<g id="h5" transform="translate(855 948)rotate(-90)"><use href="#d"/><text class="m">M</text></g>
<g id="h6" transform="translate(804 907)rotate(-90)"><use href="#d"/><text class="m">M</text></g>
<g id="h7" transform="translate(804 842)rotate(-90)"><use href="#d"/><text class="m">M</text></g>
<g id="i1" transform="translate(868 992)rotate(-90)"><use href="#d"/><text class="m">M</text></g>
<g id="i2" transform="translate(929 1006)rotate(-90)"><use href="#d"/><text class="m">M</text></g>
<g id="i3" transform="translate(957 1063)rotate(-90)"><use href="#d"/><text class="m">M</text></g>
<g id="i4" transform="translate(929 1121)rotate(-90)"><use href="#d"/><text class="m">M</text></g>
<g id="i5" transform="translate(868 1133)rotate(-90)"><use href="#d"/><text class="m">M</text></g>
<g id="i6" transform="translate(818 1095)rotate(-90)"><use href="#d"/><text class="m">M</text></g>
<g id="i7" transform="translate(818 1032)rotate(-90)"><use href="#d"/><text class="m">M</text></g>
<g id="j1" transform="translate(774 1172)rotate(-90)"><use href="#d"/><text class="m">M</text></g>
<g id="j2" transform="translate(833 1181)rotate(-90)"><use href="#d"/><text class="m">M</text></g>
<g id="j3" transform="translate(879 1220)rotate(-90)"><use href="#d"/><text class="m">M</text></g>
<g id="j4" transform="translate(896 1278)rotate(-90)"><use href="#d"/><text class="m">M</text></g>
<g id="j5" transform="translate(879 1336)rotate(-90)"><use href="#d"/><text class="m">M</text></g>
<g id="j6" transform="translate(833 1374)rotate(-90)"><use href="#d"/><text class="m">M</text></g>
<g id="j7" transform="translate(774 1383)rotate(-90)"><use href="#d"/><text class="m">M</text></g>
<g id="j8" transform="translate(720 1358)rotate(-90)"><use href="#d"/><text class="m">M</text></g>
<g id="j9" transform="translate(688 1308)rotate(-90)"><use href="#d"/><text class="m">M</text></g>
<g id="j10" transform="translate(688 1247)rotate(-90)"><use href="#d"/><text class="m">M</text></g>
<g id="j11" transform="translate(720 1197)rotate(-90)"><use href="#d"/><text class="m">M</text></g>
<g id="k1" transform="translate(337 1110)rotate(-90)"><use href="#d"/><text class="m">M</text></g>
<g id="k2" transform="translate(378 1090)rotate(-90)"><use href="#d"/><text class="m">M</text></g>
<g id="k3" transform="translate(426 1077)rotate(-90)"><use href="#d"/><text class="m">M</text></g>
<g id="k4" transform="translate(476 1076)rotate(-90)"><use href="#d"/><text class="m">M</text></g>
<g id="k5" transform="translate(523 1090)rotate(-90)"><use href="#d"/><text class="m">M</text></g>
<g id="k6" transform="translate(565 1110)rotate(-90)"><use href="#d"/><text class="m">M</text></g>
<g id="k7" transform="translate(597 1157)rotate(-90)"><use href="#d"/><text class="m">M</text></g>
<g id="k8" transform="translate(618 1198)rotate(-90)"><use href="#d"/><text class="m">M</text></g>
<g id="k9" transform="translate(625 1248)rotate(-90)"><use href="#d"/><text class="m">M</text></g>
<g id="k10" transform="translate(618 1297)rotate(-90)"><use href="#d"/><text class="m">M</text></g>
<g id="k11" transform="translate(597 1342)rotate(-90)"><use href="#d"/><text class="m">M</text></g>
<g id="k12" transform="translate(564 1379)rotate(-90)"><use href="#d"/><text class="m">M</text></g>
<g id="k13" transform="translate(523 1406)rotate(-90)"><use href="#d"/><text class="m">M</text></g>
<g id="k14" transform="translate(476 1420)rotate(-90)"><use href="#d"/><text class="m">M</text></g>
<g id="k15" transform="translate(426 1420)rotate(-90)"><use href="#d"/><text class="m">M</text></g>
<g id="k16" transform="translate(379 1406)rotate(-90)"><use href="#d"/><text class="m">M</text></g>
<g id="k17" transform="translate(337 1379)rotate(-90)"><use href="#d"/><text class="m">M</text></g>
<g id="k18" transform="translate(304 1342)rotate(-90)"><use href="#d"/><text class="m">M</text></g>
<g id="k19" transform="translate(284 1297)rotate(-90)"><use href="#d"/><text class="m">M</text></g>
<g id="k20" transform="translate(277 1248)rotate(-90)"><use href="#d"/><text class="m">M</text></g>
<g id="k21" transform="translate(284 1198)rotate(-90)"><use href="#d"/><text class="m">M</text></g>
<g id="k22" transform="translate(304 1157)rotate(-90)"><use href="#d"/><text class="m">M</text></g>
</g>
<g id="hubs">
<g id="AJH" transform="translate(496 224)rotate(-90)"><rect class="h" x="-39" y="-39" width="78" height="78" rx="10"/><text class="l" font-size="39">AJH</text></g>
<g id="AMR" transform="translate(766 117)rotate(-90)"><rect class="h" x="-39" y="-39" width="78" height="78" rx="10"/><text class="l" font-size="35">AMR</text></g>
<g id="MOC" transform="translate(188 232)rotate(-90)"><rect class="h" x="-39" y="-39" width="78" height="78" rx="10"/><text class="l" font-size="37" x="-41" style="text-anchor:start" clip-path="url(#cm)">MOC</text></g>
<g id="PR" transform="translate(834 340)rotate(-90)"><rect class="h" x="-39" y="-39" width="78" height="78" rx="10"/><text class="l" font-size="47">PR</text></g>
<g id="CR" transform="translate(195 496)rotate(-90)"><rect class="h" x="-39" y="-39" width="78" height="78" rx="10"/><text class="l" font-size="47">CR</text></g>
<g id="Po" transform="translate(867 622)rotate(-90)"><rect class="h" x="-39" y="-39" width="78" height="78" rx="10"/><text class="l" font-size="47">Po</text></g>
<g id="AR" transform="translate(202 917)rotate(-90)"><rect class="h" x="-39" y="-39" width="78" height="78" rx="10"/><text class="l" font-size="47">AR</text></g>
<g id="CRP" transform="translate(870 876)rotate(-90)"><rect class="h" x="-39" y="-39" width="78" height="78" rx="10"/><text class="l" font-size="38">CRP</text></g>
<g id="FTB" transform="translate(884 1059)rotate(-90)"><rect class="h" x="-39" y="-39" width="78" height="78" rx="10"/><text class="l" font-size="40">FTB</text></g>
<g id="ATR" transform="translate(781 1277)rotate(-90)"><rect class="h" x="-39" y="-39" width="78" height="78" rx="10"/><text class="l" font-size="38">ATR</text></g>
<g id="EH" transform="translate(453 1239)rotate(-90)"><rect class="h" x="-39" y="-39" width="78" height="78" rx="10"/><text class="l" font-size="47">EH</text></g>
</g>
</svg>
